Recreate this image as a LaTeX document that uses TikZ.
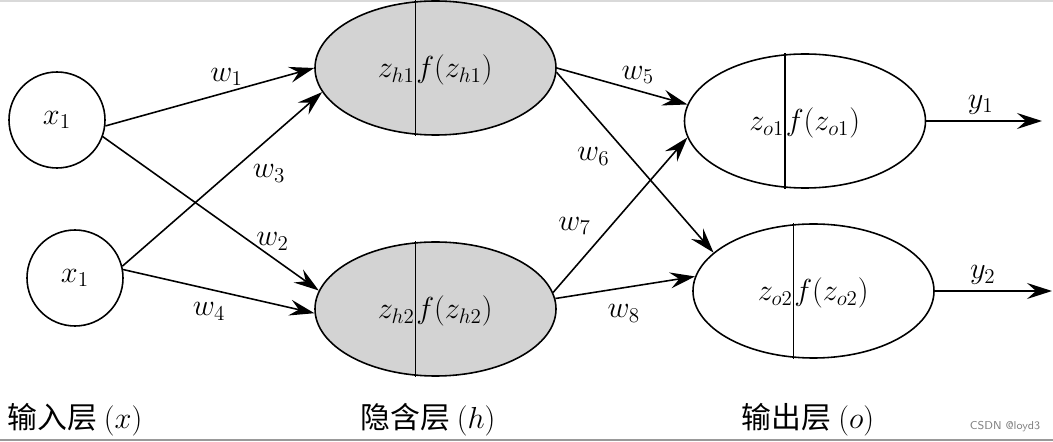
\documentclass[tikz,border=0pt]{standalone}
\usepackage{fontspec}
\newfontfamily\cjk{Noto Sans CJK SC}
\usetikzlibrary{arrows.meta,shapes.geometric,positioning}
\definecolor{hidgray}{RGB}{211,211,211}

\begin{document}
\begin{tikzpicture}[>={Stealth[length=5mm,width=3.2mm,inset=1.8mm]},line width=0.9pt,
  every node/.style={font=\fontsize{17}{20}\selectfont},
  unit/.style={draw,ellipse,minimum width=4.82cm,minimum height=2.68cm},
  inp/.style={draw,circle,minimum size=1.92cm},
  part/.style={inner sep=0pt},
  layer/.style={font=\fontsize{17}{20}\selectfont}]
\useasboundingbox (0,0) rectangle (21.06,-8.84);
\draw[gray!30,line width=0.6pt] (0,-0.02) -- (21.06,-0.02);
\draw[gray!80,line width=1pt] (0,-8.80) -- (21.06,-8.80);
% input layer
\node[inp] (x1a) at (1.14,-2.40) {$x_1$};
\node[inp] (x1b) at (1.50,-5.56) {$x_1$};
% hidden layer
\node[unit,fill=hidgray] (h1) at (8.71,-1.36) {};
\node[unit,fill=hidgray] (h2) at (8.71,-6.18) {};
% output layer
\node[unit] (o1) at (16.10,-2.42) {};
\node[unit] (o2) at (16.27,-5.82) {};
% split lines and texts
\draw ([xshift=-4mm]h1.north) -- ([xshift=-4mm]h1.south);
\draw ([xshift=-4mm]h2.north) -- ([xshift=-4mm]h2.south);
\draw ([xshift=-4mm]o1.north) -- ([xshift=-4mm]o1.south);
\draw ([xshift=-4mm]o2.north) -- ([xshift=-4mm]o2.south);
\node[part,anchor=base east] (h1z) at ([xshift=-4mm,yshift=-2mm]h1.center) {$z_{h1}$};
\node[part,anchor=base west] (h1f) at ([xshift=-4mm,yshift=-2mm]h1.center) {$f(z_{h1})$};
\node[part,anchor=base east] (h2z) at ([xshift=-4mm,yshift=-2mm]h2.center) {$z_{h2}$};
\node[part,anchor=base west] (h2f) at ([xshift=-4mm,yshift=-2mm]h2.center) {$f(z_{h2})$};
\node[part,anchor=base east] (o1z) at ([xshift=-4mm,yshift=-2mm]o1.center) {$z_{o1}$};
\node[part,anchor=base west] (o1f) at ([xshift=-4mm,yshift=-2mm]o1.center) {$f(z_{o1})$};
\node[part,anchor=base east] (o2z) at ([xshift=-4mm,yshift=-2mm]o2.center) {$z_{o2}$};
\node[part,anchor=base west] (o2f) at ([xshift=-4mm,yshift=-2mm]o2.center) {$f(z_{o2})$};
\coordinate (y1end) at (20.84,-2.42);
\coordinate (y2end) at (21.04,-5.82);
% weights
\draw[->] (x1a.-7) -- node[pos=0.58,above] (w1) {$w_1$} (h1.west);
\draw[->] (x1a.-20) -- node[pos=0.68,right] (w2) {$w_2$} (h2.171);
\draw[->] (x1b.14) -- node[pos=0.62,below right] (w3) {$w_3$} (h1.192);
\draw[->] (x1b.10) -- node[pos=0.45,below=4pt] (w4) {$w_4$} (h2.182);
\draw[->] (h1.east) -- node[pos=0.62,above] (w5) {$w_5$} (o1.172);
\draw[->] (h1.-2) -- node[pos=0.38,below left] (w6) {$w_6$} (o2.159);
\draw[->] (h2.8) -- node[pos=0.33,above left] (w7) {$w_7$} (o1.188);
\draw[->] (h2.5) -- node[pos=0.49,below=6pt] (w8) {$w_8$} (o2.173);
\draw[->] (o1.east) -- node[pos=0.47,above] (y1) {$y_1$} (y1end);
\draw[->] (o2.east) -- node[pos=0.41,above] (y2) {$y_2$} (y2end);
% layer names
\node[layer] (lx) at (1.50,-8.40) {\cjk 输入层 $(x)$};
\node[layer] (lh) at (8.56,-8.40) {\cjk 隐含层 $(h)$};
\node[layer] (lo) at (16.16,-8.40) {\cjk 输出层 $(o)$};
\node[font=\sffamily\fontsize{6.5}{8}\selectfont,text=gray] (mark) at (20.10,-8.54) {CSDN @loyd3};
\end{tikzpicture}
\end{document}
